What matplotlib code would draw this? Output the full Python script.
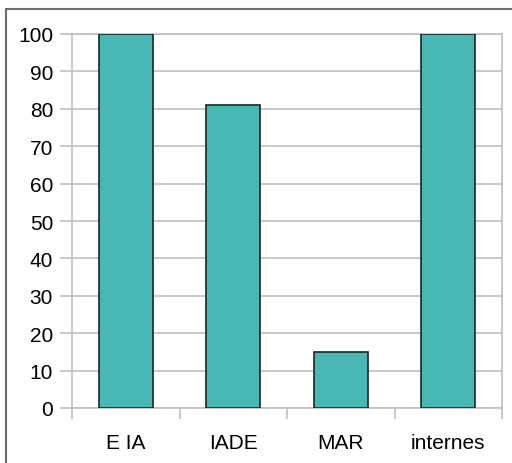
import matplotlib.pyplot as plt
from matplotlib.patches import Rectangle
import numpy as np

categories = ["E IA", "IADE", "MAR", "internes"]
values = [100, 81, 15, 100]

plt.rcParams['font.family'] = ['Liberation Sans', 'DejaVu Sans']

fig = plt.figure(figsize=(5.12, 4.64), dpi=100)
ax = fig.add_axes([72/512, 1 - 409/464, 430/512, 374/464])

x = np.arange(len(categories))
ax.bar(x, values, width=0.5, color="#48b8b5", edgecolor="#1a2626", linewidth=1.2, zorder=3)

ax.set_xlim(-0.5, len(categories) - 0.5)
ax.set_ylim(0, 100)
ax.set_yticks(range(0, 101, 10))
ax.yaxis.grid(True, color="#c0c0c0", linewidth=1.2, zorder=0)

ax.set_xticks(x)
ax.set_xticklabels(categories)
ax.set_xticks(np.arange(-0.5, len(categories)), minor=True)
ax.tick_params(axis="x", which="major", length=0, pad=18, labelsize=15)
ax.tick_params(axis="x", which="minor", length=8, width=1.2, color="#c0c0c0")
ax.tick_params(axis="y", length=8.6, width=1.2, color="#c0c0c0", pad=5, labelsize=15)

for s in ax.spines.values():
    s.set_color("#c0c0c0")
    s.set_linewidth(1.2)

fig.patches.append(Rectangle((6/512, -0.1), 1.2, 1.1 - 10/464, transform=fig.transFigure,
                             fill=False, edgecolor="#6e6e6e", linewidth=1.5))

fig.savefig("out.png", dpi=100)
